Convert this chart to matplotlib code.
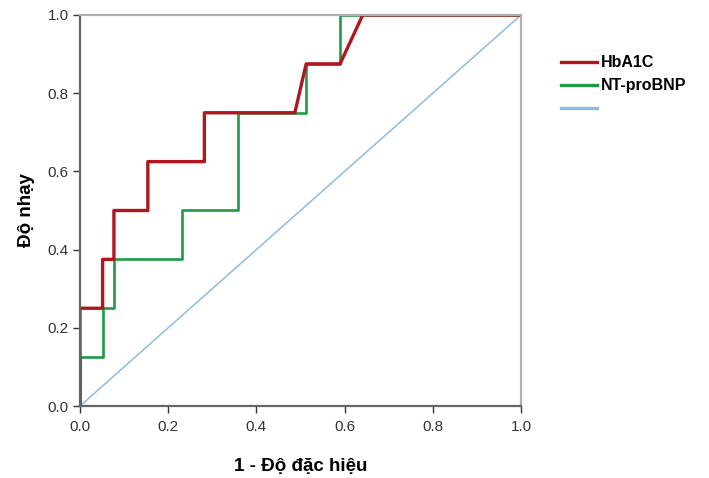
import matplotlib
matplotlib.use("Agg")
import matplotlib.pyplot as plt
from matplotlib.lines import Line2D

plt.rcParams['font.family'] = ['Liberation Sans', 'DejaVu Sans']

# ROC curve points (1 - specificity, sensitivity)
hba1c_x = [0, 0, 2/39, 2/39, 3/39, 3/39, 6/39, 6/39, 11/39, 11/39, 19/39, 20/39, 23/39, 25/39, 1]
hba1c_y = [0, 0.25, 0.25, 0.375, 0.375, 0.5, 0.5, 0.625, 0.625, 0.75, 0.75, 0.875, 0.875, 1.0, 1.0]

ntpro_x = [0, 0, 2/39, 2/39, 3/39, 3/39, 9/39, 9/39, 14/39, 14/39, 20/39, 20/39, 23/39, 23/39, 1]
ntpro_y = [0, 0.125, 0.125, 0.25, 0.25, 0.375, 0.375, 0.5, 0.5, 0.75, 0.75, 0.875, 0.875, 1.0, 1.0]

ref_x = [0, 1]
ref_y = [0, 1]

series_labels = ['HbA1C', 'NT-proBNP', ' ']
ticks = [0.0, 0.2, 0.4, 0.6, 0.8, 1.0]

red = '#b0161e'
green = '#1f9a48'
blue = '#8dbbe2'

fig = plt.figure(figsize=(7.09, 4.78), dpi=100)
ax = fig.add_axes([80/709, 72/478, 441/709, 391/478])

ax.plot(ref_x, ref_y, color=blue, lw=1.1)
ax.plot(ntpro_x, ntpro_y, color=green, lw=1.9)
ax.plot(hba1c_x, hba1c_y, color=red, lw=2.4)

ax.set_xlim(0, 1)
ax.set_ylim(0, 1)
ax.set_xticks(ticks)
ax.set_yticks(ticks)
ax.set_xticklabels([f'{t:.1f}' for t in ticks], fontsize=11, color='#333333')
ax.set_yticklabels([f'{t:.1f}' for t in ticks], fontsize=11, color='#333333')
ax.tick_params(axis='x', direction='out', length=5, width=1, color='#333333', pad=5)
ax.tick_params(axis='y', direction='out', length=5, width=1, color='#333333', pad=3)

for s in ['left', 'bottom']:
    ax.spines[s].set_color('#666666')
    ax.spines[s].set_linewidth(1.6)
for s in ['top', 'right']:
    ax.spines[s].set_color('#b0b0b0')
    ax.spines[s].set_linewidth(1.6)

ax.set_xlabel('1 - Độ đặc hiệu', fontsize=13.5, fontweight='bold', labelpad=17)
ax.set_ylabel('Độ nhạy', fontsize=13.5, fontweight='bold', labelpad=9)

handles = [Line2D([], [], color=red, lw=2.4),
           Line2D([], [], color=green, lw=2.4),
           Line2D([], [], color=blue, lw=2.4)]
leg = fig.legend(handles, series_labels, loc='upper left', bbox_to_anchor=(547/709, 1 - 41/478),
                 frameon=False, handlelength=2.2, handletextpad=0.3, labelspacing=0.5,
                 prop={'size': 11.5, 'weight': 'bold'})

fig.savefig('out.png', dpi=100)
